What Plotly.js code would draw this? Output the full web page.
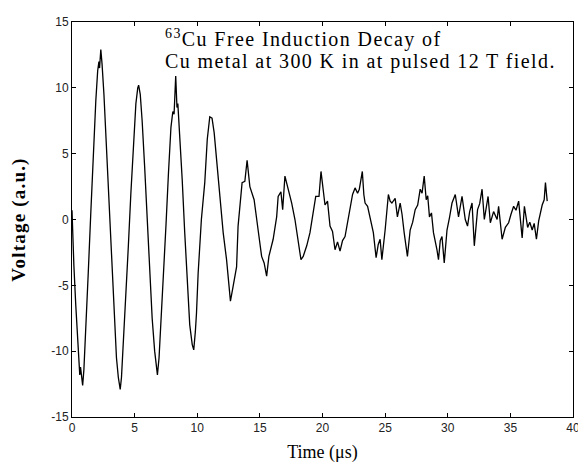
<!DOCTYPE html>
<html>
<head>
<meta charset="utf-8">
<script src="https://cdn.plot.ly/plotly-3.0.1.min.js"></script>
<style>
html,body{margin:0;padding:0;background:#fff;}
#chart{width:578px;height:465px;}
.annotation-text{letter-spacing:1.4px;}
.ytitle{letter-spacing:1.2px;}
</style>
</head>
<body>
<div id="chart"></div>
<script>
// Time (µs)
const timeUs = [
  0.0, 0.05, 0.15, 0.3, 0.45, 0.55, 0.62, 0.68, 0.75, 0.85, 0.95, 1.1, 1.3, 1.5, 1.7, 1.9, 2.05, 2.15, 2.2, 2.3, 2.4, 2.55, 2.75, 2.95,
  3.15, 3.35, 3.55, 3.7, 3.85, 3.95, 4.1, 4.3, 4.5, 4.7, 4.9, 5.1, 5.25, 5.32, 5.45, 5.6, 5.8, 6.0, 6.2, 6.4, 6.6, 6.72, 6.82, 6.95,
  7.1, 7.3, 7.5, 7.7, 7.9, 8.05, 8.15, 8.28, 8.38, 8.45, 8.6, 8.8, 9.0, 9.2, 9.4, 9.6, 9.72, 9.85, 9.94, 10.07,
  10.33, 10.6, 10.8, 11.0, 11.18, 11.35, 11.54, 11.8, 12.07, 12.34, 12.54, 12.65, 12.86, 13.14, 13.26, 13.4, 13.58, 13.8, 13.98,
  14.2, 14.54, 14.86, 15.14, 15.34, 15.54, 15.72, 16.06, 16.34, 16.46, 16.68, 16.82, 17.0, 17.26, 17.54, 17.8, 18.06, 18.28,
  18.46, 18.74, 19.0, 19.26, 19.46, 19.72, 19.88,
  20.2, 20.4, 20.6, 20.8, 21.0, 21.2, 21.4, 21.6, 21.8, 22.0, 22.2, 22.4, 22.6, 22.8, 22.94, 23.18, 23.3, 23.4, 23.6, 23.8, 24.06,
  24.28, 24.45, 24.6, 24.74, 25.0, 25.26, 25.4, 25.54, 25.8, 25.98,
  26.2, 26.35, 26.52, 26.78, 27.0, 27.2, 27.4, 27.6, 27.8, 27.95, 28.12, 28.28, 28.4, 28.54, 28.7, 28.86, 29.14, 29.26, 29.4, 29.54,
  29.72, 29.94, 30.15, 30.34, 30.6, 30.86, 31.14,
  31.4, 31.58, 31.75, 31.94, 32.12, 32.38, 32.55, 32.74, 32.92, 33.22, 33.4, 33.66, 33.94, 34.06, 34.34, 34.6, 34.86, 35.05, 35.26,
  35.45, 35.66, 35.94, 36.12, 36.38, 36.55, 36.74, 36.9, 37.08, 37.26, 37.54, 37.7, 37.8, 37.94
];
// Voltage (a.u.)
const voltage = [
  0.7, -1.0, -3.5, -6.5, -9.5, -11.0, -11.8, -11.2, -12.0, -12.6, -11.4, -8.5, -4.0, 0.5, 5.0, 9.0, 11.3, 12.0, 11.5, 12.9, 11.8, 9.5, 5.5, 1.5,
  -3.0, -7.0, -10.5, -12.0, -12.9, -12.0, -9.5, -6.0, -2.0, 2.0, 5.8, 8.8, 10.0, 10.2, 9.5, 7.5, 4.0, 0.0, -4.0, -7.5, -10.0, -11.0, -11.8, -10.5,
  -8.0, -4.5, -0.5, 3.5, 7.0, 8.2, 8.0, 10.9, 8.5, 8.8, 6.5, 3.0, -1.0, -5.0, -8.0, -9.5, -9.9, -8.5, -7.1, -4.1,
  0.0, 2.8, 6.1, 7.8, 7.7, 6.6, 4.5, 1.75, -1.0, -3.05, -5.1, -6.2, -5.1, -3.6, -0.5, 0.75, 2.8, 2.9, 4.5,
  2.5, 1.5, -0.8, -2.8, -3.3, -4.3, -2.8, -1.5, 0.2, 1.75, 2.1, 0.75, 3.3, 2.3, 1.25, 0.0, -1.8, -3.05,
  -2.8, -2.0, -1.0, 0.5, 1.75, 1.75, 3.65,
  1.1, 1.4, -0.5, -0.9, -2.3, -1.7, -2.4, -1.6, -1.3, -0.2, 1.0, 1.9, 2.4, 2.0, 2.3, 3.65, 1.9, 1.25, 1.0, 0.2, -1.0,
  -2.9, -1.9, -1.5, -3.05, -0.8, 1.9, 1.4, 1.25, 1.6, 0.2,
  1.25, 0.4, -1.0, -2.8, -0.8, -0.2, 0.75, 1.1, 2.3, 2.0, 3.3, 1.5, 1.8, 0.2, 0.5, -1.0, -2.3, -3.05, -1.6, -1.3,
  -3.3, -0.8, 0.2, 1.25, 1.9, 0.2, 1.75,
  0.0, -0.5, 0.6, 1.25, -2.0, 0.75, 1.2, 2.3, 0.0, 1.75, -0.25, 0.6, 0.0, 1.0, -1.5, -0.6, -0.25, 0.4, 1.0,
  0.7, 1.4, -1.4, 1.0, -0.6, -0.2, -0.8, -0.3, -1.5, -0.1, 1.1, 1.5, 2.8, 1.4
];
const xTicks = [0, 5, 10, 15, 20, 25, 30, 35, 40];
const yTicks = [-15, -10, -5, 0, 5, 10, 15];
const titleLine1 = "<sup>63</sup>Cu Free Induction Decay of";
const titleLine2 = "Cu metal at 300 K in at pulsed 12 T field.";

const serif = "'Liberation Serif', 'Times New Roman', serif";
const sans = "'Liberation Sans', Arial, sans-serif";

const trace = {
  x: timeUs, y: voltage, type: 'scatter', mode: 'lines',
  line: {color: '#000', width: 1.3, shape: 'linear'},
  hoverinfo: 'skip'
};

const axisCommon = {
  showline: true, linecolor: '#000', linewidth: 1, mirror: 'ticks',
  ticks: 'inside', ticklen: 4, tickwidth: 1, tickcolor: '#000',
  showgrid: false, zeroline: false,
  tickfont: {family: sans, size: 12, color: '#222'},
  tickmode: 'array', ticklabeloverflow: 'allow'
};

const layout = {
  width: 578, height: 465,
  margin: {l: 72, r: 5, t: 22, b: 48},
  paper_bgcolor: '#fff', plot_bgcolor: '#fff',
  showlegend: false,
  xaxis: Object.assign({}, axisCommon, {
    range: [0, 40], tickvals: xTicks, ticktext: xTicks.map(String),
    title: {text: 'Time (μs)', font: {family: serif, size: 18, color: '#000'}, standoff: 10}
  }),
  yaxis: Object.assign({}, axisCommon, {
    range: [-15, 15], tickvals: yTicks, ticktext: yTicks.map(String),
    title: {text: '<b>Voltage (a.u.)</b>', font: {family: serif, size: 19, color: '#000'}, standoff: 20}
  }),
  annotations: [
    {text: titleLine1, xref: 'paper', yref: 'paper', x: 0.181, y: 0.958, xanchor: 'left', yanchor: 'middle',
     showarrow: false, font: {family: serif, size: 20, color: '#000'}},
    {text: titleLine2, xref: 'paper', yref: 'paper', x: 0.181, y: 0.900, xanchor: 'left', yanchor: 'middle',
     showarrow: false, font: {family: serif, size: 20, color: '#000'}}
  ]
};

Plotly.newPlot('chart', [trace], layout, {displayModeBar: false, staticPlot: true});
</script>
</body>
</html>
